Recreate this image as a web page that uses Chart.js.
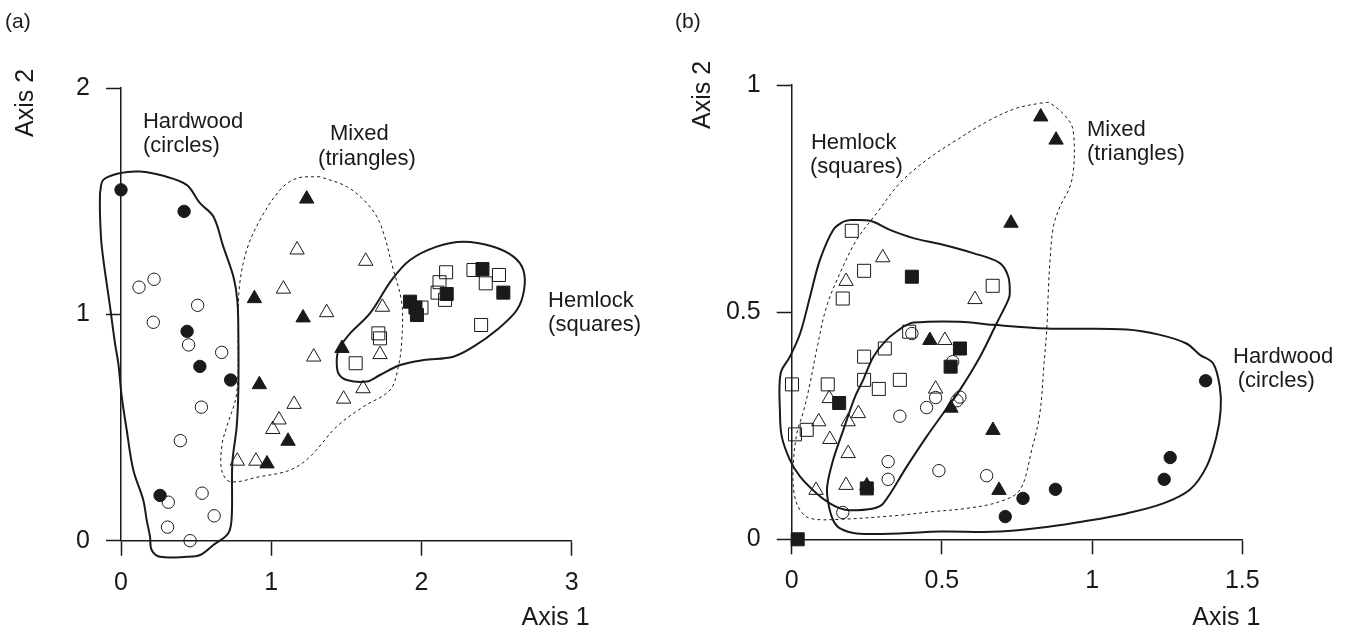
<!DOCTYPE html>
<html><head><meta charset="utf-8">
<script src="https://cdn.jsdelivr.net/npm/chart.js@4.4.1/dist/chart.umd.min.js"></script>
<style>
html,body{margin:0;padding:0;background:#fff;}
body{width:1347px;height:632px;position:relative;overflow:hidden;}
canvas{position:absolute;top:0;}
#ca{left:0;} #cb{left:673px;}
</style></head><body>
<canvas id="ca" width="673" height="632"></canvas>
<canvas id="cb" width="674" height="632"></canvas>
<script>
// ---------- Panel (a): ordination scores ----------
const aXTicks = [0, 1, 2, 3];
const aXTickLabels = ['0', '1', '2', '3'];
const aYTicks = [0, 1, 2];
const aYTickLabels = ['0', '1', '2'];

const aHardwoodFilled = [[0,1.55],[0.42,1.455],[0.44,0.925],[0.525,0.77],[0.73,0.71],[0.26,0.2]];
const aHardwoodOpen = [[0.12,1.12],[0.22,1.155],[0.51,1.04],[0.215,0.965],[0.45,0.865],[0.67,0.832],[0.535,0.59],[0.395,0.442],[0.315,0.17],[0.54,0.21],[0.62,0.11],[0.31,0.06],[0.46,0.0]];
const aMixedFilled = [[1.236,1.51],[0.888,1.07],[1.212,0.985],[1.471,0.85],[0.921,0.69],[1.112,0.44],[0.972,0.34]];
const aMixedOpen = [[1.172,1.285],[1.629,1.235],[1.081,1.112],[1.369,1.008],[1.74,1.032],[1.283,0.812],[1.724,0.823],[1.611,0.672],[1.482,0.626],[1.152,0.603],[1.052,0.534],[1.01,0.492],[0.774,0.352],[0.898,0.352]];
const aHemlockFilled = [[1.924,1.056],[1.96,1.03],[1.97,0.997],[2.168,1.09],[2.406,1.2],[2.545,1.096]];
const aHemlockOpen = [[2.0,1.03],[2.164,1.186],[2.12,1.142],[2.107,1.096],[2.157,1.064],[2.346,1.196],[2.428,1.137],[2.516,1.174],[2.397,0.953],[1.713,0.916],[1.724,0.894],[1.562,0.784]];

const aHardwoodHull = [[-0.14,1.535],[-0.118,1.594],[-0.007,1.624],[0.126,1.631],[0.282,1.612],[0.437,1.572],[0.526,1.491],[0.615,1.432],[0.681,1.299],[0.748,1.167],[0.774,1.064],[0.781,0.931],[0.781,0.666],[0.77,0.504],[0.741,0.342],[0.737,0.106],[0.714,0.033],[0.615,-0.019],[0.526,-0.063],[0.437,-0.071],[0.26,-0.071],[0.204,-0.041],[0.193,0.018],[0.171,0.091],[0.148,0.18],[0.082,0.312],[0.038,0.489],[0.005,0.636],[-0.018,0.784],[-0.04,0.872],[-0.073,1.034],[-0.128,1.299],[-0.14,1.447]];
const aMixedHull = [[1.325,1.608],[1.17,1.601],[1.059,1.55],[0.925,1.417],[0.837,1.285],[0.788,1.122],[0.781,0.946],[0.77,0.651],[0.704,0.504],[0.672,0.423],[0.67,0.312],[0.726,0.261],[0.925,0.283],[1.125,0.312],[1.258,0.371],[1.436,0.504],[1.613,0.592],[1.791,0.666],[1.846,0.769],[1.869,0.887],[1.869,1.049],[1.813,1.196],[1.724,1.403],[1.636,1.491],[1.503,1.564]];
const aHemlockHull = [[1.447,0.85],[1.525,0.916],[1.658,1.005],[1.802,1.152],[1.924,1.24],[2.102,1.299],[2.279,1.321],[2.479,1.299],[2.612,1.255],[2.678,1.196],[2.683,1.108],[2.635,1.019],[2.501,0.931],[2.346,0.857],[2.212,0.813],[2.013,0.798],[1.858,0.776],[1.724,0.732],[1.636,0.703],[1.503,0.71],[1.447,0.74],[1.436,0.798]];

// ---------- Panel (b): ordination scores ----------
const bXTicks = [0, 0.5, 1, 1.5];
const bXTickLabels = ['0', '0.5', '1', '1.5'];
const bYTicks = [0, 0.5, 1];
const bYTickLabels = ['0', '0.5', '1'];

const bHemlockFilled = [[0.02,0.0],[0.158,0.3],[0.25,0.112],[0.4,0.578],[0.56,0.42],[0.529,0.38]];
const bHemlockOpen = [[0.2,0.679],[0.241,0.591],[0.17,0.53],[0.669,0.558],[0.391,0.457],[0.31,0.42],[0.241,0.402],[0.001,0.341],[0.12,0.341],[0.241,0.351],[0.29,0.331],[0.36,0.351],[0.011,0.231],[0.05,0.241]];
const bMixedFilled = [[0.829,0.93],[0.88,0.879],[0.73,0.696],[0.46,0.438],[0.53,0.289],[0.67,0.24],[0.69,0.108],[0.25,0.118]];
const bMixedOpen = [[0.303,0.62],[0.181,0.568],[0.61,0.528],[0.51,0.438],[0.479,0.331],[0.125,0.31],[0.222,0.277],[0.09,0.259],[0.188,0.259],[0.127,0.22],[0.188,0.189],[0.081,0.108],[0.181,0.119]];
const bHardwoodFilled = [[1.378,0.349],[1.26,0.18],[1.24,0.132],[0.878,0.11],[0.77,0.09],[0.711,0.05]];
const bHardwoodOpen = [[0.4,0.453],[0.536,0.391],[0.479,0.312],[0.449,0.29],[0.56,0.313],[0.55,0.305],[0.36,0.271],[0.49,0.151],[0.649,0.14],[0.321,0.171],[0.321,0.132],[0.17,0.059]];

const bHemlockHull = [[0.194,0.703],[0.261,0.701],[0.327,0.681],[0.405,0.663],[0.494,0.65],[0.604,0.63],[0.693,0.608],[0.721,0.578],[0.726,0.541],[0.721,0.527],[0.682,0.475],[0.627,0.402],[0.56,0.329],[0.504,0.277],[0.449,0.226],[0.383,0.16],[0.305,0.079],[0.272,0.068],[0.194,0.064],[0.161,0.068],[0.127,0.079],[0.083,0.101],[0.028,0.138],[-0.006,0.175],[-0.033,0.226],[-0.039,0.277],[-0.037,0.365],[-0.006,0.402],[0.028,0.453],[0.061,0.534],[0.094,0.615],[0.138,0.681],[0.172,0.699]];
const bHardwoodHull = [[0.371,0.468],[0.405,0.477],[0.56,0.479],[0.671,0.472],[0.849,0.464],[1.115,0.462],[1.226,0.45],[1.314,0.431],[1.359,0.406],[1.403,0.387],[1.425,0.336],[1.428,0.285],[1.414,0.226],[1.381,0.16],[1.325,0.109],[1.237,0.079],[1.115,0.057],[0.97,0.039],[0.86,0.028],[0.693,0.017],[0.494,0.017],[0.36,0.013],[0.216,0.013],[0.161,0.024],[0.138,0.042],[0.122,0.079],[0.118,0.116],[0.138,0.175],[0.172,0.241],[0.211,0.314],[0.238,0.351],[0.272,0.402],[0.316,0.439]];
const bMixedHull = [[0.826,0.96],[0.86,0.96],[0.926,0.919],[0.939,0.886],[0.939,0.82],[0.926,0.776],[0.893,0.732],[0.871,0.688],[0.86,0.615],[0.854,0.541],[0.849,0.461],[0.84,0.387],[0.826,0.277],[0.799,0.197],[0.76,0.109],[0.693,0.083],[0.582,0.068],[0.471,0.061],[0.36,0.053],[0.161,0.044],[0.061,0.046],[0.028,0.064],[0.008,0.101],[0.005,0.16],[0.017,0.233],[0.039,0.281],[0.061,0.343],[0.083,0.417],[0.116,0.512],[0.161,0.586],[0.216,0.659],[0.283,0.718],[0.36,0.784],[0.449,0.835],[0.549,0.879],[0.66,0.923],[0.749,0.949]];

// ---------- drawing helpers ----------
const FONT = '"Liberation Sans", Arial, Helvetica, sans-serif';
const INK = '#1a1a1a';

const toPoints = arr => arr.map(p => ({ x: p[0], y: p[1] }));
const closed = arr => { const a = toPoints(arr); a.push(a[0]); return a; };

function markers(label, arr, style, filled, radius) {
  return {
    label, data: toPoints(arr), showLine: false, clip: false, order: 1,
    pointStyle: style, pointRadius: radius, pointHoverRadius: radius,
    pointBackgroundColor: filled ? INK : 'rgba(0,0,0,0)',
    pointBorderColor: INK, pointBorderWidth: 1
  };
}
function hull(label, arr, dashed) {
  return {
    label, data: closed(arr), showLine: true, clip: false, order: 2,
    pointRadius: 0, pointHoverRadius: 0, fill: false,
    borderColor: INK, borderWidth: dashed ? 1 : 2,
    borderDash: dashed ? [3, 3] : [], tension: 0.35
  };
}
function axis(ticks, labels, isX, size) {
  return {
    type: 'linear', position: isX ? 'bottom' : 'left',
    min: ticks[0], max: ticks[ticks.length - 1],
    afterBuildTicks: s => { s.ticks = ticks.map(v => ({ value: v })); },
    afterFit: s => { if (isX) s.height = size; else s.width = size; },
    ticks: {
      autoSkip: false, maxRotation: 0, color: INK,
      padding: isX ? 12 : 16,
      font: { family: FONT, size: 25 },
      callback: (v, i) => labels[i]
    },
    grid: { display: true, drawOnChartArea: false, drawTicks: true, tickLength: 15, tickWidth: 1.5, tickColor: INK, color: INK },
    border: { display: true, color: INK, width: 1.5 }
  };
}

// text drawn on the canvas: panel letter, axis titles and group notes
function textLayer(cfg) {
  return {
    id: 'textLayer',
    afterDraw(chart) {
      const ctx = chart.ctx, xs = chart.scales.x, ys = chart.scales.y, area = chart.chartArea;
      ctx.save();
      ctx.fillStyle = INK;
      ctx.textBaseline = 'alphabetic';
      ctx.font = '21px ' + FONT;
      ctx.textAlign = 'left';
      ctx.fillText(cfg.letter, cfg.letterX, 28);

      ctx.font = '22px ' + FONT;
      cfg.notes.forEach(n => {
        n.lines.forEach((t, i) => {
          ctx.fillText(t, xs.getPixelForValue(n.x[i]), ys.getPixelForValue(n.y[i]));
        });
      });

      ctx.font = '25px ' + FONT;
      ctx.textAlign = 'right';
      ctx.fillText('Axis 1', area.right + 18, 625);

      ctx.translate(cfg.yTitleX, area.top + cfg.yTitleDy);
      ctx.rotate(-Math.PI / 2);
      ctx.textAlign = 'center';
      ctx.fillText('Axis 2', 0, 0);
      ctx.restore();
    }
  };
}

function panel(id, datasets, xAxis, yAxis, padding, text) {
  return new Chart(document.getElementById(id), {
    type: 'scatter',
    data: { datasets },
    options: {
      responsive: false, animation: false,
      layout: { padding },
      plugins: { legend: { display: false }, tooltip: { enabled: false } },
      elements: { line: { capBezierPoints: false } },
      scales: { x: xAxis, y: yAxis }
    },
    plugins: [textLayer(text)]
  });
}

const CIRCLE_R = 6.2, TRI_R = 8.3, SQUARE_R = 9.2;

panel('ca', [
  markers('Hardwood', aHardwoodFilled, 'circle', true, CIRCLE_R),
  markers('Hardwood', aHardwoodOpen, 'circle', false, CIRCLE_R),
  markers('Mixed', aMixedFilled, 'triangle', true, TRI_R),
  markers('Mixed', aMixedOpen, 'triangle', false, TRI_R),
  markers('Hemlock', aHemlockOpen, 'rect', false, SQUARE_R),
  markers('Hemlock', aHemlockFilled, 'rect', true, SQUARE_R),
  hull('Hardwood', aHardwoodHull, false),
  hull('Mixed', aMixedHull, true),
  hull('Hemlock', aHemlockHull, false)
],
  axis(aXTicks, aXTickLabels, true, 91.3),
  axis(aYTicks, aYTickLabels, false, 121),
  { left: 0, right: 101.3, top: 88, bottom: 0 },
  {
    letter: '(a)', letterX: 5, yTitleX: 33, yTitleDy: 15,
    notes: [
      { lines: ['Hardwood', '(circles)'], x: [0.146, 0.146], y: [1.824, 1.717] },
      { lines: ['Mixed', '(triangles)'], x: [1.391, 1.312], y: [1.771, 1.66] },
      { lines: ['Hemlock', '(squares)'], x: [2.843, 2.843], y: [1.032, 0.927] }
    ]
  });

panel('cb', [
  markers('Hardwood', bHardwoodFilled, 'circle', true, CIRCLE_R),
  markers('Hardwood', bHardwoodOpen, 'circle', false, CIRCLE_R),
  markers('Mixed', bMixedFilled, 'triangle', true, TRI_R),
  markers('Mixed', bMixedOpen, 'triangle', false, TRI_R),
  markers('Hemlock', bHemlockOpen, 'rect', false, SQUARE_R),
  markers('Hemlock', bHemlockFilled, 'rect', true, SQUARE_R),
  hull('Hardwood', bHardwoodHull, false),
  hull('Mixed', bMixedHull, true),
  hull('Hemlock', bHemlockHull, false)
],
  axis(bXTicks, bXTickLabels, true, 92.7),
  axis(bYTicks, bYTickLabels, false, 118.7),
  { left: 0, right: 104.7, top: 85, bottom: 0 },
  {
    letter: '(b)', letterX: 2, yTitleX: 37, yTitleDy: 10,
    notes: [
      { lines: ['Hemlock', '(squares)'], x: [0.064, 0.061], y: [0.859, 0.806] },
      { lines: ['Mixed', '(triangles)'], x: [0.983, 0.983], y: [0.887, 0.835] },
      { lines: ['Hardwood', '(circles)'], x: [1.469, 1.485], y: [0.388, 0.335] }
    ]
  });
</script>
</body></html>
